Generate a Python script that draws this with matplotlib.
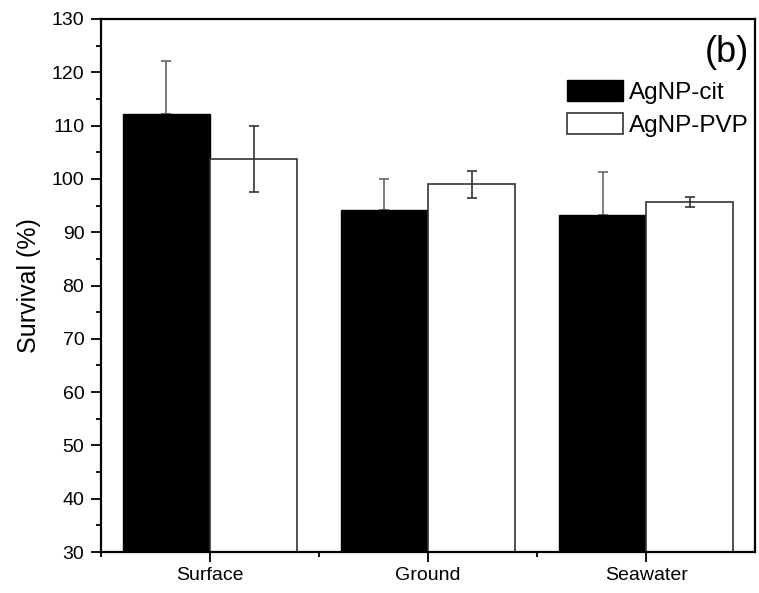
import numpy as np
import matplotlib.pyplot as plt
from matplotlib.patches import Patch
from matplotlib.ticker import MultipleLocator

plt.rcParams['font.family'] = ['Liberation Sans', 'DejaVu Sans']

waters = ['Surface', 'Ground', 'Seawater']
cit = [112.1, 94.1, 93.2]
cit_err = [10.0, 5.9, 8.1]
pvp = [103.8, 99.0, 95.7]
pvp_err = [6.2, 2.5, 0.9]

fig = plt.figure(figsize=(7.59, 5.93), dpi=100)
ax = fig.add_axes([0.133, 0.069, 0.862, 0.899])

x = np.arange(1, len(waters) + 1)
w = 0.4
ax.bar(x - w / 2, cit, w, color='black', edgecolor='black', lw=1, zorder=2)
ax.errorbar(x - w / 2, cit, yerr=[np.zeros(3), cit_err], fmt='none',
            ecolor='#666666', elinewidth=1.2, capsize=3.6, capthick=1.2, zorder=1)
ax.bar(x + w / 2, pvp, w, color='white', edgecolor='#333333', lw=1.2, zorder=2)
ax.errorbar(x + w / 2, pvp, yerr=pvp_err, fmt='none',
            ecolor='#333333', elinewidth=1.2, capsize=3.6, capthick=1.2, zorder=3)

ax.set_xlim(0.5, 3.5)
ax.set_ylim(30, 130)
ax.set_xticks(x)
ax.set_xticklabels(waters, fontsize=14)
ax.set_xticks([0.5, 1.5, 2.5], minor=True)
ax.yaxis.set_major_locator(MultipleLocator(10))
ax.yaxis.set_minor_locator(MultipleLocator(5))
ax.tick_params(axis='both', which='major', direction='out', length=7, width=1.3)
ax.tick_params(axis='y', which='major', labelsize=14, pad=5)
ax.tick_params(axis='both', which='minor', direction='out', length=3.6, width=1.3)
ax.tick_params(top=False, right=False)
for s in ax.spines.values():
    s.set_linewidth(1.6)
ax.set_ylabel('Survival (%)', fontsize=18, labelpad=8)

ax.text(0.99, 0.97, '(b)', transform=ax.transAxes, ha='right', va='top', fontsize=26)
handles = [Patch(facecolor='black', edgecolor='black'),
           Patch(facecolor='white', edgecolor='#333333', lw=1.2)]
ax.legend(handles, ['AgNP-cit', 'AgNP-PVP'], loc='upper right', bbox_to_anchor=(1.012, 0.912),
          frameon=False, fontsize=17.5, handlelength=2.3, handleheight=0.95,
          handletextpad=0.25, labelspacing=0.35, borderaxespad=0.2)

plt.savefig('out.png', dpi=100)
